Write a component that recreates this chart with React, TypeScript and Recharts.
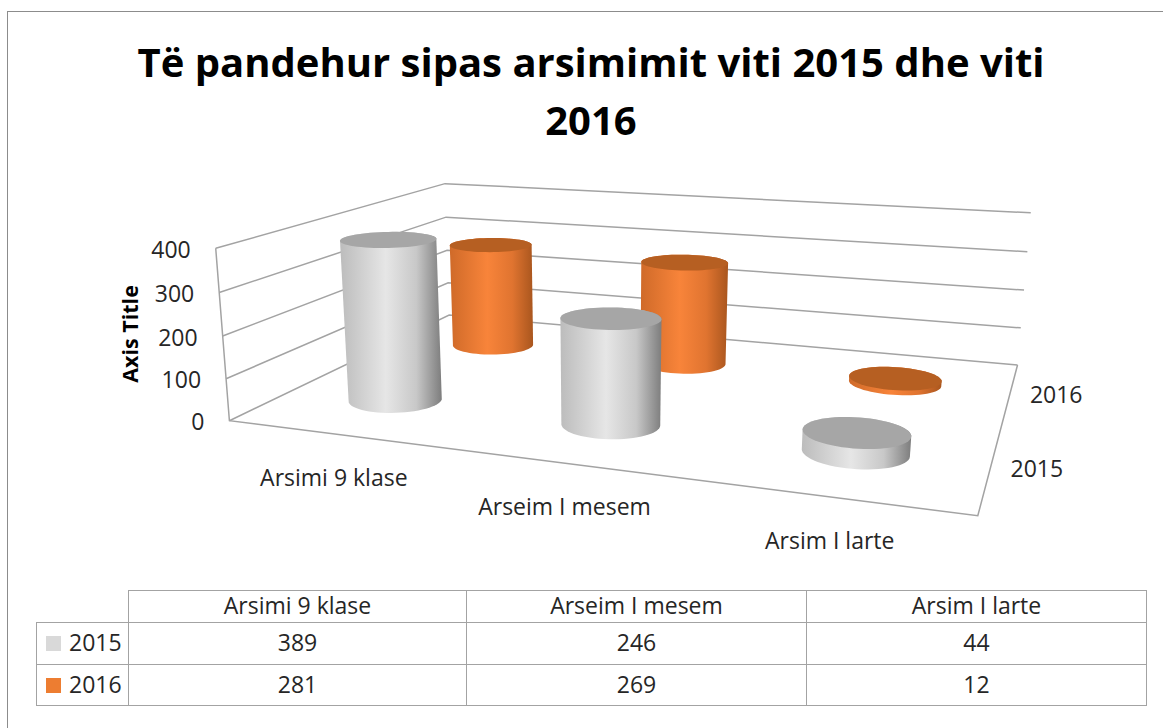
import { BarChart, Bar, XAxis, YAxis, CartesianGrid } from 'recharts';

const categories = ['Arsimi 9 klase', 'Arseim I mesem', 'Arsim I larte'];
const values2015 = [389, 246, 44];
const values2016 = [281, 269, 12];
const yTicks = [0, 100, 200, 300, 400];
const titleLines = ['Të pandehur sipas arsimimit viti 2015 dhe viti', '2016'];

const data = categories.map((name, i) => ({ name, s2015: values2015[i], s2016: values2016[i] }));

const CW = 1163;
const CH = 728;
// axes need 1px of room or recharts skips their ticks
const PLOT_LEFT = 1;
const PLOT_W = CW - 1;
const PLOT_H = CH - 1;
const FONT = '"Open Sans", sans-serif';
const TEXT = '#262626';
const LINE = '#a3a3a3';
const LABEL_SIZE = 23;
const BAR_SIZE = 158;
const DEPTH_RATIO = 1.4; // floor is not square, circle needs more v than u

// depth of each series on the floor, 0 = front wall, 1 = back wall
const DEPTH_2015 = 0.25;
const DEPTH_2016 = 0.75;

// projective camera for the 3d box, u along categories, v into depth, w up
const cam = {
  a: 563.5, b: 368, c: -21.3, d: 229.4,
  e: -2.5, f: -1.75, g: -181.2, h: 420.7,
  i: -0.1891, j: 0.33, k: -0.0353,
};

function project(u: number, v: number, w: number) {
  const den = cam.i * u + cam.j * v + cam.k * w + 1;
  return {
    x: (cam.a * u + cam.b * v + cam.c * w + cam.d) / den,
    y: (cam.e * u + cam.f * v + cam.g * w + cam.h) / den,
  };
}

const toPath = (pts: { x: number; y: number }[]) =>
  pts.map((p, i) => `${i ? 'L' : 'M'}${p.x.toFixed(2)} ${p.y.toFixed(2)}`).join(' ') + ' Z';

function hull(input: { x: number; y: number }[]) {
  const pts = [...input].sort((p, q) => p.x - q.x || p.y - q.y);
  const cross = (o: any, p: any, q: any) => (p.x - o.x) * (q.y - o.y) - (p.y - o.y) * (q.x - o.x);
  const lower: any[] = [];
  for (const p of pts) {
    while (lower.length >= 2 && cross(lower[lower.length - 2], lower[lower.length - 1], p) <= 0) lower.pop();
    lower.push(p);
  }
  const upper: any[] = [];
  for (const p of pts.reverse()) {
    while (upper.length >= 2 && cross(upper[upper.length - 2], upper[upper.length - 1], p) <= 0) upper.pop();
    upper.push(p);
  }
  return [...lower.slice(0, -1), ...upper.slice(0, -1)];
}

function ring(u: number, v: number, w: number, ru: number) {
  const out = [];
  for (let t = 0; t < 64; t++) {
    const a = (t / 64) * Math.PI * 2;
    out.push(project(u + ru * Math.cos(a), v + ru * DEPTH_RATIO * Math.sin(a), w));
  }
  return out;
}

// Bar shape: takes the rectangle recharts computed and stands it up in the box
function Cylinder(props: any) {
  const { x, y, width, depth, bodyId, capColor } = props;
  const u = (x + width / 2 - PLOT_LEFT) / PLOT_W;
  const ru = width / 2 / PLOT_W;
  const top = ring(u, depth, 1 - y / PLOT_H, ru);
  const base = ring(u, depth, 0, ru);
  return (
    <g>
      <path d={toPath(hull([...top, ...base]))} fill={`url(#${bodyId})`} />
      <path d={toPath(top)} fill={capColor} />
    </g>
  );
}

// one grid level per y tick, wall lines come from the recharts grid
function GridLevel(props: any) {
  const w = 1 - props.y1 / PLOT_H;
  const pts = [project(0, 0, w), project(0, 1, w), project(1, 1, w)];
  const d = pts.map((p, i) => `${i ? 'L' : 'M'}${p.x} ${p.y}`).join(' ');
  return <path key={props.key} d={d} fill="none" stroke={LINE} strokeWidth={1.5} />;
}

function YTick(props: any) {
  const w = 1 - props.y / PLOT_H;
  const p = project(0, 0, w);
  return (
    <text x={p.x - 25} y={p.y + 0.5} textAnchor="end" dominantBaseline="central" fontFamily={FONT} fontSize={LABEL_SIZE} fill={TEXT}>
      {props.payload.value}
    </text>
  );
}

function XTick(props: any) {
  const p = project((props.x - PLOT_LEFT) / PLOT_W, 0, 0);
  return (
    <text x={p.x} y={p.y + 43} textAnchor="middle" dominantBaseline="central" fontFamily={FONT} fontSize={LABEL_SIZE} fill={TEXT}>
      {props.payload.value}
    </text>
  );
}

function Box3D() {
  const fl0 = project(0, 0, 0);
  const fl4 = project(0, 0, 1);
  const fr = project(1, 0, 0);
  const br = project(1, 1, 0);
  const s15 = project(1, DEPTH_2015, 0);
  const s16 = project(1, DEPTH_2016, 0);
  return (
    <svg width={CW} height={CH} style={{ position: 'absolute', left: 0, top: 0 }}>
      <path
        d={`M${fl4.x} ${fl4.y} L${fl0.x} ${fl0.y} L${fr.x} ${fr.y} L${br.x} ${br.y}`}
        fill="none"
        stroke={LINE}
        strokeWidth={1.5}
      />
      <text x={s15.x + 20} y={s15.y} dominantBaseline="central" fontFamily={FONT} fontSize={LABEL_SIZE} fill={TEXT}>2015</text>
      <text x={s16.x + 20} y={s16.y} dominantBaseline="central" fontFamily={FONT} fontSize={LABEL_SIZE} fill={TEXT}>2016</text>
      <text
        transform="translate(129 334) rotate(-90)"
        textAnchor="middle"
        dominantBaseline="central"
        fontFamily={FONT}
        fontWeight={700}
        fontSize={21.5}
        fill="#000"
      >
        Axis Title
      </text>
      {titleLines.map((line, i) => (
        <text key={line} x={591} y={77 + i * 58} textAnchor="middle" fontFamily={FONT} fontWeight={700} fontSize={40} fill="#000">
          {line}
        </text>
      ))}
    </svg>
  );
}

const cell = { border: `1.5px solid ${LINE}`, padding: '0 0 3px 0', textAlign: 'center' as const };

function DataTable() {
  const rows = [
    { label: '2015', color: '#d9d9d9', values: values2015, height: 42 },
    { label: '2016', color: '#ed7d31', values: values2016, height: 41 },
  ];
  return (
    <table
      style={{
        position: 'absolute', left: 36, top: 590, width: 1110, borderCollapse: 'collapse', tableLayout: 'fixed',
        fontFamily: FONT, fontSize: LABEL_SIZE, lineHeight: '26px', color: TEXT,
      }}
    >
      <colgroup>
        <col style={{ width: 92 }} />
        <col style={{ width: 338 }} />
        <col style={{ width: 340 }} />
        <col style={{ width: 340 }} />
      </colgroup>
      <tbody>
        <tr style={{ height: 32 }}>
          <td style={{ border: 'none', borderRight: cell.border, borderBottom: cell.border }} />
          {categories.map(c => <td key={c} style={cell}>{c}</td>)}
        </tr>
        {rows.map(r => (
          <tr key={r.label} style={{ height: r.height }}>
            <td style={{ ...cell, textAlign: 'left', whiteSpace: 'nowrap' }}>
              <span style={{ display: 'inline-block', width: 15, height: 15, background: r.color, margin: '0 8px 0 9px' }} />
              {r.label}
            </td>
            {r.values.map((v, i) => <td key={i} style={cell}>{v}</td>)}
          </tr>
        ))}
      </tbody>
    </table>
  );
}

export default function App() {
  return (
    <div style={{ position: 'absolute', left: 0, top: 0, width: CW, height: CH, background: '#fff', overflow: 'hidden' }}>
      <div style={{ position: 'absolute', left: 7, top: 11, width: CW, height: CH, border: '1.5px solid #8c8c8c' }} />
      <Box3D />
      <div style={{ position: 'absolute', left: 0, top: 0 }}>
        <BarChart
          width={CW}
          height={CH}
          data={data}
          margin={{ top: 0, right: 0, bottom: 0, left: 0 }}
          barSize={BAR_SIZE}
          barGap={-BAR_SIZE}
        >
          <defs>
            <linearGradient id="bodyGray" x1="0" y1="0" x2="1" y2="0">
              <stop offset="0%" stopColor="#bcbcbc" />
              <stop offset="45%" stopColor="#e6e6e6" />
              <stop offset="75%" stopColor="#c8c8c8" />
              <stop offset="100%" stopColor="#7d7d7d" />
            </linearGradient>
            <linearGradient id="bodyOrange" x1="0" y1="0" x2="1" y2="0">
              <stop offset="0%" stopColor="#cf6a29" />
              <stop offset="45%" stopColor="#f8843a" />
              <stop offset="75%" stopColor="#e07430" />
              <stop offset="100%" stopColor="#a9561e" />
            </linearGradient>
          </defs>
          <CartesianGrid vertical={false} horizontal={GridLevel} />
          <XAxis dataKey="name" height={1} axisLine={false} tickLine={false} interval={0} tick={XTick} />
          <YAxis
            width={1}
            domain={[0, 400]}
            ticks={yTicks}
            interval={0}
            axisLine={false}
            tickLine={false}
            tick={YTick}
          />
          <Bar
            dataKey="s2016"
            isAnimationActive={false}
            shape={(p: any) => <Cylinder {...p} depth={DEPTH_2016} bodyId="bodyOrange" capColor="#b65f22" />}
          />
          <Bar
            dataKey="s2015"
            isAnimationActive={false}
            shape={(p: any) => <Cylinder {...p} depth={DEPTH_2015} bodyId="bodyGray" capColor="#a6a6a6" />}
          />
        </BarChart>
      </div>
      <DataTable />
    </div>
  );
}
